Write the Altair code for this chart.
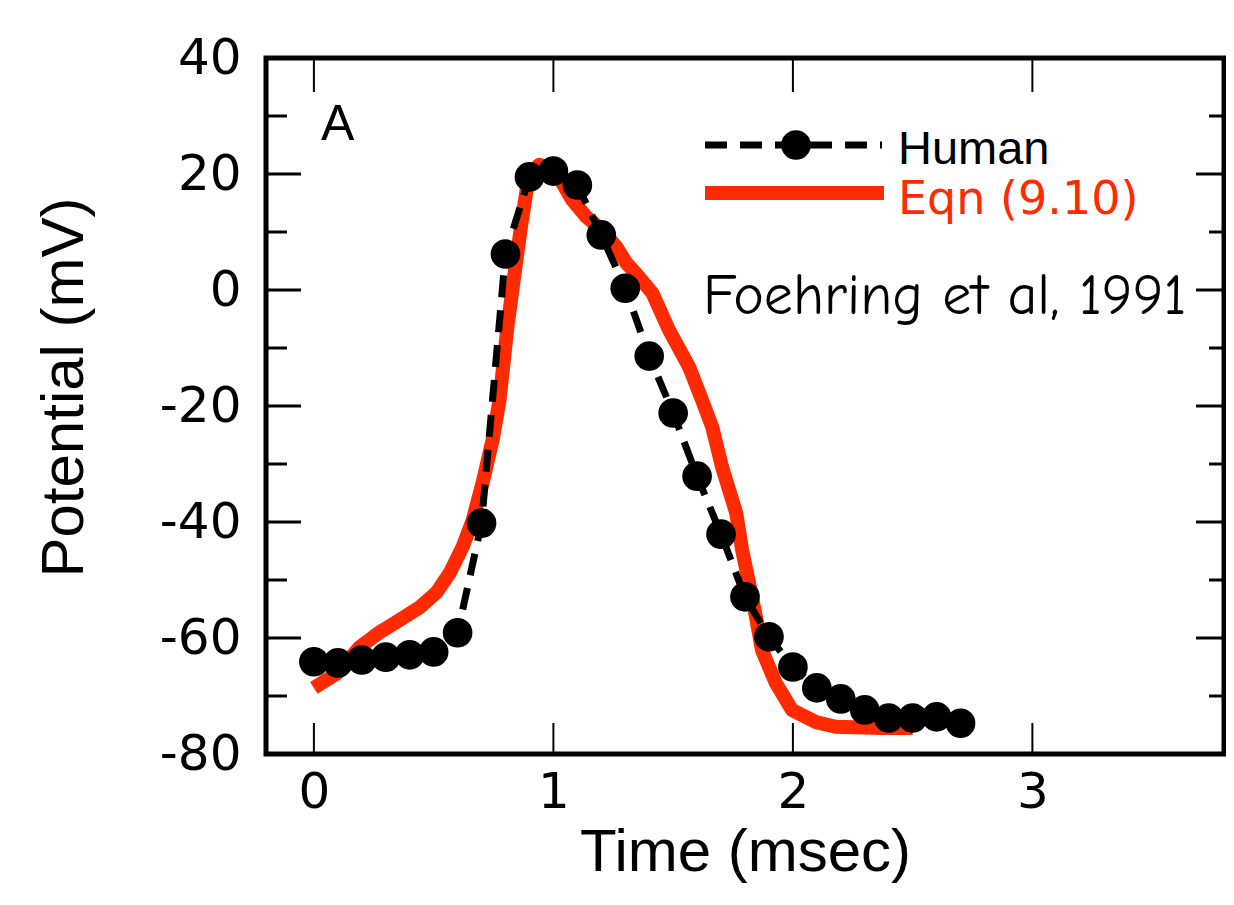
import altair as alt
import pandas as pd

# ---- data ----
human_t = [0.0, 0.1, 0.2, 0.3, 0.4, 0.5, 0.6, 0.7, 0.8, 0.9, 1.0, 1.1, 1.2, 1.3,
           1.4, 1.5, 1.6, 1.7, 1.8, 1.9, 2.0, 2.1, 2.2, 2.3, 2.4, 2.5, 2.6, 2.7]
human_v = [-64.1, -64.3, -63.8, -63.3, -62.9, -62.4, -59.1, -40.2, 6.2, 19.5,
           20.5, 18.1, 9.5, 0.3, -11.4, -21.2, -32.1, -42.1, -52.9, -59.8,
           -65.0, -68.6, -70.5, -72.4, -73.8, -73.8, -73.6, -74.7]

eqn_t = [0.0, 0.1, 0.19, 0.275, 0.358, 0.442, 0.513, 0.567, 0.621, 0.663, 0.704,
         0.746, 0.775, 0.808, 0.838, 0.867, 0.888, 0.908, 0.942, 0.996, 1.038,
         1.079, 1.138, 1.204, 1.263, 1.304, 1.358, 1.413, 1.483, 1.567, 1.621,
         1.663, 1.704, 1.763, 1.788, 1.817, 1.846, 1.871, 1.929, 1.996, 2.096,
         2.179, 2.371, 2.5]
eqn_v = [-68.6, -66.0, -61.6, -59.0, -56.9, -54.7, -52.1, -48.8, -44.3, -39.7,
         -33.3, -25.9, -19.0, -6.4, 2.9, 11.6, 17.2, 20.3, 21.6, 20.7, 18.4,
         15.5, 12.6, 10.3, 7.4, 4.7, 2.2, -0.5, -6.9, -13.3, -19.0, -23.6,
         -30.5, -38.4, -44.8, -50.5, -56.4, -62.1, -67.8, -72.4, -74.5, -75.3,
         -75.5, -75.5]

x_ticks = [0, 1, 2, 3]
y_ticks = [-80, -60, -40, -20, 0, 20, 40]
y_minor = [-70, -50, -30, -10, 10, 30]
legend_labels = ["Human", "Eqn (9.10)"]
panel_label = ["A"]
citation = ["Foehring et al, 1991"]

# ---- styling ----
W, H = 958, 696
RED = "#ff2a00"
FONT = "Liberation Sans"
TICKFONT = "DejaVu Sans"

xscale = alt.Scale(domain=[-0.2, 3.8], nice=False, zero=False)
yscale = alt.Scale(domain=[-80, 40], nice=False, zero=False)

human = pd.DataFrame({"t": human_t, "v": human_v})
eqn = pd.DataFrame({"t": eqn_t, "v": eqn_v})

x_axis = alt.Axis(values=x_ticks, title="Time (msec)", ticks=False, tickSize=0,
                  domain=False, grid=False, labelPadding=13,
                  labelExpr="'' + datum.value",
                  labelFont=TICKFONT, labelFontSize=50, labelColor="black",
                  titleFont=FONT, titleFontSize=60, titleFontWeight="normal",
                  titleColor="black", titleX=W / 2, titleY=116,
                  titleBaseline="alphabetic", titleAlign="center")
y_axis = alt.Axis(values=y_ticks, title="Potential (mV)", ticks=False, tickSize=0,
                  domain=False, grid=False, labelPadding=25,
                  labelExpr="'' + datum.value",
                  labelFont=TICKFONT, labelFontSize=50, labelColor="black",
                  titleFont=FONT, titleFontSize=60, titleFontWeight="normal",
                  titleColor="black", titleAngle=270, titleX=-184, titleY=329,
                  titleBaseline="alphabetic", titleAlign="center")

X = alt.X("t:Q", scale=xscale, axis=x_axis)
Y = alt.Y("v:Q", scale=yscale, axis=y_axis)

eqn_line = alt.Chart(eqn).mark_line(
    color=RED, strokeWidth=14, strokeCap="butt", strokeJoin="round"
).encode(x=X, y=Y)

human_line = alt.Chart(human).mark_line(
    color="black", strokeWidth=7, strokeDash=[22, 13]
).encode(x=X, y=Y)

human_pts = alt.Chart(human).mark_circle(
    color="black", size=880, opacity=1
).encode(x=X, y=Y)

# inward ticks on all four sides
ymaj = pd.DataFrame({"v": y_ticks})
ymin = pd.DataFrame({"v": y_minor})
xmaj = pd.DataFrame({"t": x_ticks})

left_major = alt.Chart(ymaj).mark_rule(color="black", strokeWidth=3).encode(
    y=Y, x=alt.value(0), x2=alt.value(35))
left_minor = alt.Chart(ymin).mark_rule(color="black", strokeWidth=3).encode(
    y=Y, x=alt.value(0), x2=alt.value(21))
right_major = alt.Chart(ymaj).mark_rule(color="black", strokeWidth=3).encode(
    y=Y, x=alt.value(W - 28), x2=alt.value(W))
right_minor = alt.Chart(ymin).mark_rule(color="black", strokeWidth=3).encode(
    y=Y, x=alt.value(W - 15), x2=alt.value(W))
top_ticks = alt.Chart(xmaj).mark_rule(color="black", strokeWidth=2).encode(
    x=X, y=alt.value(0), y2=alt.value(34))
bottom_ticks = alt.Chart(xmaj).mark_rule(color="black", strokeWidth=2).encode(
    x=X, y=alt.value(H - 31), y2=alt.value(H))

# annotations and hand-made legend
a_text = alt.Chart(pd.DataFrame({"label": panel_label})).mark_text(
    font=FONT, fontSize=50, align="left", baseline="alphabetic", color="black"
).encode(text="label:N", x=alt.value(55), y=alt.value(82))

leg_human_line = alt.Chart(pd.DataFrame({"label": legend_labels[:1]})).mark_rule(
    color="black", strokeWidth=7, strokeDash=[22, 13]
).encode(x=alt.value(439), x2=alt.value(616), y=alt.value(87))
leg_human_dot = alt.Chart(pd.DataFrame({"label": legend_labels[:1]})).mark_circle(
    color="black", size=880, opacity=1
).encode(x=alt.value(530), y=alt.value(87))
leg_human_text = alt.Chart(pd.DataFrame({"label": legend_labels[:1]})).mark_text(
    font=FONT, fontSize=47, align="left", baseline="alphabetic", color="black"
).encode(text="label:N", x=alt.value(632), y=alt.value(106))

leg_eqn_line = alt.Chart(pd.DataFrame({"label": legend_labels[1:]})).mark_rule(
    color=RED, strokeWidth=14, strokeCap="butt"
).encode(x=alt.value(439), x2=alt.value(618), y=alt.value(135))
leg_eqn_text = alt.Chart(pd.DataFrame({"label": legend_labels[1:]})).mark_text(
    font=TICKFONT, fontSize=46, align="left", baseline="alphabetic", color=RED
).encode(text="label:N", x=alt.value(632), y=alt.value(156))

cite_text = alt.Chart(pd.DataFrame({"label": citation})).mark_text(
    font="Comic Sans MS, Comic Neue, Liberation Sans", fontSize=58, align="left",
    baseline="alphabetic", color="black"
).encode(text="label:N", x=alt.value(437), y=alt.value(256))

chart = alt.layer(
    eqn_line, human_line, human_pts,
    left_major, left_minor, right_major, right_minor, top_ticks, bottom_ticks,
    a_text, leg_eqn_line, leg_human_line, leg_human_dot, leg_human_text,
    leg_eqn_text, cite_text,
).properties(
    width=W, height=H,
    background="white",
    autosize=alt.AutoSizeParams(type="none"),
    padding={"left": 258, "top": 50, "right": 2, "bottom": 140},
).configure_view(
    stroke="black", strokeWidth=5
)

chart.save("out.html", embed_options={"renderer": "svg", "actions": False})
